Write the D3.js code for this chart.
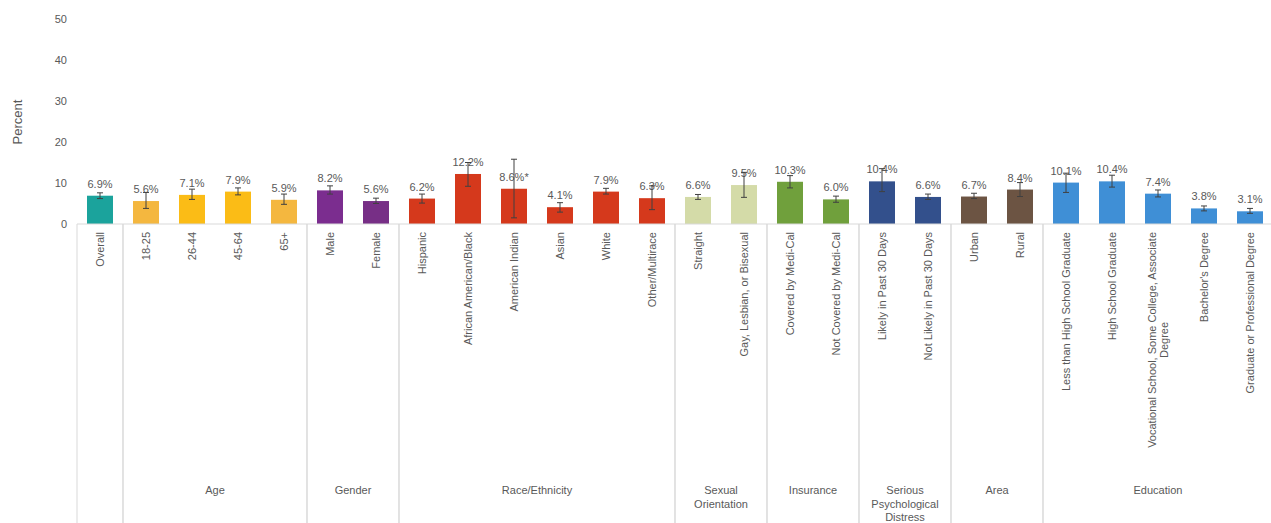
<!DOCTYPE html>
<html>
<head>
<meta charset="utf-8">
<script src="https://cdn.jsdelivr.net/npm/d3@7"></script>
<style>
  body { margin: 0; background: #fff; }
  text { font-family: "Liberation Sans", Arial, sans-serif; fill: #595959; }
</style>
</head>
<body>
<div id="chart"></div>
<script>
// data
var categories = ["Overall", "18-25", "26-44", "45-64", "65+", "Male", "Female",
  "Hispanic", "African American/Black", "American Indian", "Asian", "White", "Other/Multirace",
  "Straight", "Gay, Lesbian, or Bisexual", "Covered by Medi-Cal", "Not Covered by Medi-Cal",
  "Likely in Past 30 Days", "Not Likely in Past 30 Days", "Urban", "Rural",
  "Less than High School Graduate", "High School Graduate",
  "Vocational School, Some College, Associate Degree", "Bachelor's Degree",
  "Graduate or Professional Degree"];
var groupNames = ["", "Age", "Gender", "Race/Ethnicity", "Sexual Orientation", "Insurance",
  "Serious Psychological Distress", "Area", "Education"];
var groupSizes = [1, 4, 2, 6, 2, 2, 2, 2, 5];
var values = [6.9, 5.6, 7.1, 7.9, 5.9, 8.2, 5.6, 6.2, 12.2, 8.6, 4.1, 7.9, 6.3, 6.6, 9.5,
  10.3, 6.0, 10.4, 6.6, 6.7, 8.4, 10.1, 10.4, 7.4, 3.8, 3.1];
var lowerCI = [6.2, 3.8, 6.0, 7.1, 4.8, 7.3, 5.0, 5.1, 9.2, 1.5, 2.9, 7.3, 3.5, 6.0, 6.5,
  8.8, 5.3, 7.9, 6.0, 6.2, 6.7, 7.7, 9.0, 6.6, 3.2, 2.6];
var upperCI = [7.6, 7.7, 8.5, 8.8, 7.3, 9.3, 6.3, 7.3, 15.0, 15.8, 5.2, 8.7, 9.3, 7.2, 12.6,
  11.8, 6.8, 13.5, 7.3, 7.5, 10.1, 12.4, 11.9, 8.3, 4.4, 3.8];
var labelNotes = ["", "", "", "", "", "", "", "", "", "*", "", "", "", "", "",
  "", "", "", "", "", "", "", "", "", "", ""];
var yTicks = [0, 10, 20, 30, 40, 50];

// colours, one per bar
var barColors = ["#1ba39c", "#f4b73f", "#fbbc16", "#fbbc16", "#f4b73f", "#7b2d8f", "#772f86",
  "#d5391c", "#d5391c", "#d5391c", "#d5391c", "#d5391c", "#d5391c",
  "#d4dba8", "#d4dba8", "#70a03c", "#70a03c", "#33508c", "#33508c", "#6c5443", "#6c5443",
  "#3f8fd6", "#3f8fd6", "#3f8fd6", "#3f8fd6", "#3f8fd6"];

var width = 1271;
var height = 523;
var gridColor = "#d9d9d9";

var svg = d3.select("#chart")
  .append("svg")
  .attr("width", width)
  .attr("height", height);

var rows = categories.map(function(c, i) {
  return { name: c, value: values[i], lo: lowerCI[i], hi: upperCI[i], note: labelNotes[i], color: barColors[i] };
});

// Add X scale
var x = d3.scaleBand()
  .domain(categories)
  .range([77, 1273])
  .paddingInner(0.435)
  .paddingOuter(0.2175);

var gap = x.step() - x.bandwidth();

// Add Y axis
var y = d3.scaleLinear()
  .domain([0, 50])
  .range([224, 19]);

var yAxis = svg.append("g")
  .attr("transform", "translate(77,0)")
  .call(d3.axisLeft(y).tickValues(yTicks).tickSize(0).tickPadding(10));
yAxis.select(".domain").remove();
yAxis.selectAll("text")
  .attr("font-family", null)
  .style("font-size", "11px");

svg.append("text")
  .attr("transform", "translate(22,122) rotate(-90)")
  .attr("text-anchor", "middle")
  .style("font-size", "13px")
  .text("Percent");

// measure helper for wrapping
var measure = svg.append("text").style("font-size", "11px").style("opacity", 0);
function textWidth(s) {
  measure.text(s);
  return measure.node().getComputedTextLength();
}
function wrapWords(s, maxWidth) {
  var words = s.split(" ");
  var lines = [];
  var line = words[0];
  for (var i = 1; i < words.length; i++) {
    if (textWidth(line + " " + words[i]) > maxWidth) {
      lines.push(line);
      line = words[i];
    } else {
      line = line + " " + words[i];
    }
  }
  lines.push(line);
  return lines;
}

// Bars
svg.selectAll(".bar")
  .data(rows)
  .enter()
  .append("rect")
  .attr("class", "bar")
  .attr("x", function(d) { return x(d.name); })
  .attr("y", function(d) { return y(d.value); })
  .attr("width", x.bandwidth())
  .attr("height", function(d) { return y(0) - y(d.value); })
  .attr("fill", function(d) { return d.color; });

// Value labels
svg.selectAll(".vlabel")
  .data(rows)
  .enter()
  .append("text")
  .attr("class", "vlabel")
  .attr("x", function(d) { return x(d.name) + x.bandwidth() / 2; })
  .attr("y", function(d) { return y(d.value) - 8; })
  .attr("text-anchor", "middle")
  .style("font-size", "11px")
  .text(function(d) { return d.value.toFixed(1) + "%" + d.note; });

// Error bars
var capHalf = 3;
var err = svg.selectAll(".err")
  .data(rows)
  .enter()
  .append("g")
  .attr("class", "err")
  .attr("stroke", "#404040")
  .attr("stroke-width", 1);
err.append("line")
  .attr("x1", function(d) { return x(d.name) + x.bandwidth() / 2; })
  .attr("x2", function(d) { return x(d.name) + x.bandwidth() / 2; })
  .attr("y1", function(d) { return y(d.lo); })
  .attr("y2", function(d) { return y(d.hi); });
err.append("line")
  .attr("x1", function(d) { return x(d.name) + x.bandwidth() / 2 - capHalf; })
  .attr("x2", function(d) { return x(d.name) + x.bandwidth() / 2 + capHalf; })
  .attr("y1", function(d) { return y(d.hi); })
  .attr("y2", function(d) { return y(d.hi); });
err.append("line")
  .attr("x1", function(d) { return x(d.name) + x.bandwidth() / 2 - capHalf; })
  .attr("x2", function(d) { return x(d.name) + x.bandwidth() / 2 + capHalf; })
  .attr("y1", function(d) { return y(d.lo); })
  .attr("y2", function(d) { return y(d.lo); });

// X axis line
svg.append("line")
  .attr("x1", x.range()[0])
  .attr("x2", x.range()[1])
  .attr("y1", y(0))
  .attr("y2", y(0))
  .attr("stroke", gridColor);

// Group separators and group labels
var start = 0;
groupNames.forEach(function(g, gi) {
  var first = categories[start];
  var last = categories[start + groupSizes[gi] - 1];
  var left = x(first) - gap / 2;
  var right = x(last) + x.bandwidth() + gap / 2;
  [left, right].forEach(function(px) {
    svg.append("line")
      .attr("x1", px).attr("x2", px)
      .attr("y1", y(0)).attr("y2", height)
      .attr("stroke", gridColor);
  });
  if (g) {
    var lines = wrapWords(g, right - left - 12);
    var t = svg.append("text")
      .attr("text-anchor", "middle")
      .style("font-size", "11px");
    lines.forEach(function(l, li) {
      t.append("tspan")
        .attr("x", (left + right) / 2)
        .attr("y", 494 + li * 13.5)
        .text(l);
    });
  }
  start += groupSizes[gi];
});

// Category labels, rotated
var lineH = 12.5;
rows.forEach(function(d) {
  var lines = wrapWords(d.name, 240);
  var longest = d3.max(lines, textWidth);
  var t = svg.append("text")
    .attr("transform", "translate(" + (x(d.name) + x.bandwidth() / 2) + ",232) rotate(-90)")
    .attr("text-anchor", "middle")
    .style("font-size", "11px");
  lines.forEach(function(l, li) {
    t.append("tspan")
      .attr("x", -longest / 2)
      .attr("y", (li - (lines.length - 1) / 2) * lineH + 4)
      .text(l);
  });
});

measure.remove();
</script>
</body>
</html>
